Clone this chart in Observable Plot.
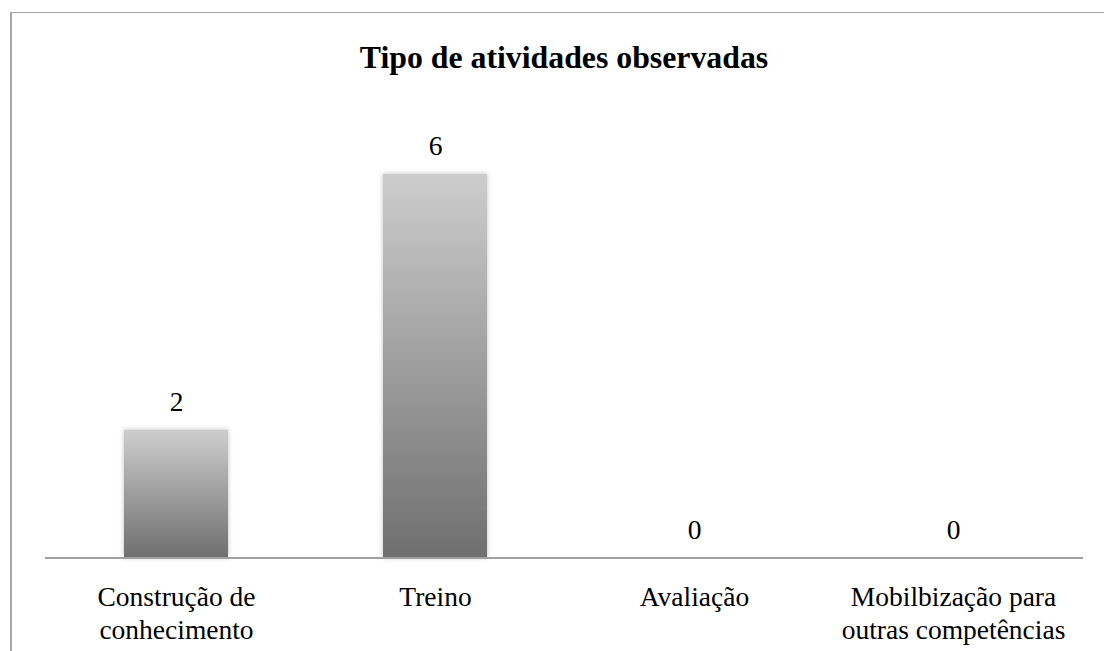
<!DOCTYPE html>
<html>
<head>
<meta charset="utf-8">
<script src="https://cdn.jsdelivr.net/npm/d3@7"></script>
<script src="https://cdn.jsdelivr.net/npm/@observablehq/plot@0.6"></script>
<style>
  html, body { margin: 0; padding: 0; background: #fff; overflow: hidden; }
  #wrap { position: relative; width: 1104px; height: 651px; overflow: hidden; }
  #frame { position: absolute; left: 10px; top: 12px; width: 1200px; height: 800px;
           border-left: 2px solid #a6a6a6; border-top: 1.5px solid #a6a6a6; pointer-events: none; }
  #title { margin: 0; height: 100px; box-sizing: border-box; padding-top: 41.5px;
           font-family: "Liberation Serif", serif; font-weight: bold; font-size: 31.8px;
           line-height: 31.5px; color: #000; text-align: center; padding-left: 24px; width: 1104px; }
  #chart svg { display: block; }
</style>
</head>
<body>
<div id="wrap">
  <div id="frame"></div>
  <div id="title">Tipo de atividades observadas</div>
  <div id="chart"></div>
</div>
<script>
const categories = ["Construção de conhecimento", "Treino", "Avaliação", "Mobilbização para outras competências"];
const tickLabels = ["Construção de\nconhecimento", "Treino", "Avaliação", "Mobilbização para\noutras competências"];
const values = [2, 6, 0, 0];

const data = categories.map((c, i) => ({category: c, value: values[i], label: tickLabels[i]}));
const labelOf = new Map(data.map(d => [d.category, d.label]));

const chart = Plot.plot({
  width: 1104,
  height: 551,
  marginLeft: 45,
  marginRight: 21,
  marginTop: 74,
  marginBottom: 93.5,
  style: {fontFamily: "Liberation Serif, serif", fontSize: "27.5px", color: "#000", background: "transparent", overflow: "visible"},
  x: {domain: categories, paddingInner: 0.6, paddingOuter: 0.3, label: null},
  y: {domain: [0, 6], axis: null},
  marks: [
    Plot.barY(data, {x: "category", y: "value", fill: "url(#barGrad)"}),
    Plot.ruleY([0], {stroke: "#a0a0a0", strokeWidth: 2}),
    Plot.text(data, {x: "category", y: "value", text: d => String(d.value), dy: -28, fill: "#000", fontSize: 27.5}),
    Plot.axisX({tickSize: 0, tickPadding: 25, fontSize: 27.5, lineHeight: 1.2, tickFormat: d => labelOf.get(d), fill: "#000", label: null})
  ]
});

const ns = "http://www.w3.org/2000/svg";
const defs = document.createElementNS(ns, "defs");
defs.innerHTML = `
  <linearGradient id="barGrad" x1="0" y1="0" x2="0" y2="1">
    <stop offset="0" stop-color="#cdcdcd"/>
    <stop offset="1" stop-color="#6f6f6f"/>
  </linearGradient>
  <filter id="shadow" x="-20%" y="-10%" width="140%" height="120%">
    <feDropShadow dx="0" dy="0" stdDeviation="2.5" flood-color="#000" flood-opacity="0.25"/>
  </filter>`;
chart.insertBefore(defs, chart.firstChild);
chart.querySelectorAll("rect").forEach(r => { if (r.getAttribute("fill") === "url(#barGrad)" || (r.parentNode && r.parentNode.getAttribute("fill") === "url(#barGrad)")) r.setAttribute("filter", "url(#shadow)"); });
document.getElementById("chart").appendChild(chart);
</script>
</body>
</html>
